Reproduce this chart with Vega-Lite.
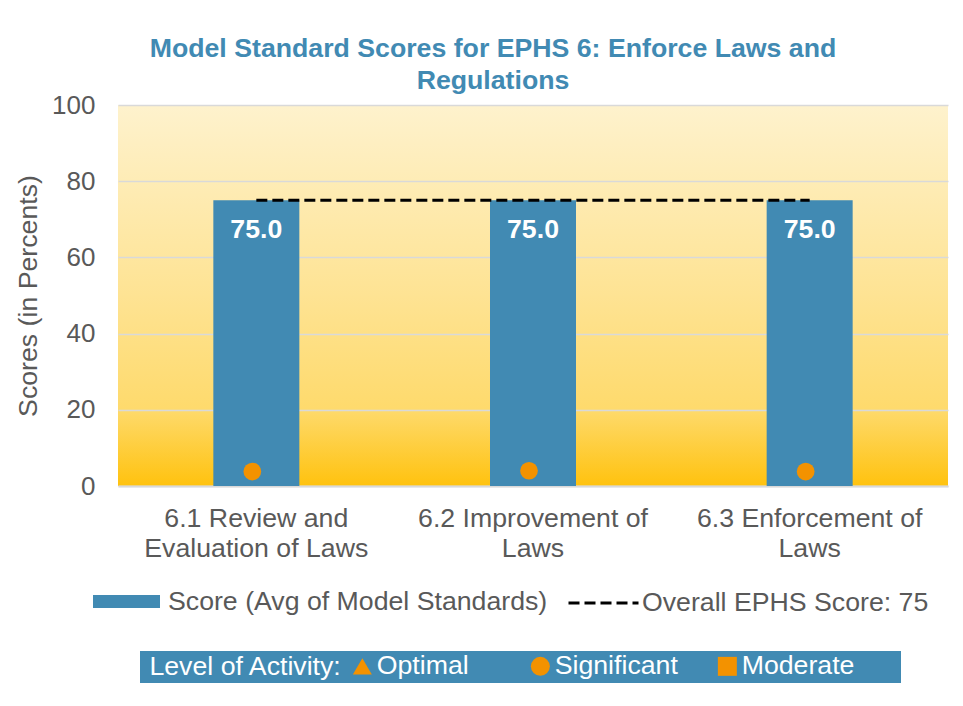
{
  "$schema": "https://vega.github.io/schema/vega-lite/v6.json",
  "width": 830,
  "height": 381,
  "autosize": {"type": "none"},
  "padding": {"left": 118, "top": 105, "right": 15, "bottom": 220},
  "background": "white",
  "title": {
    "text": ["Model Standard Scores for EPHS 6: Enforce Laws and", "Regulations"],
    "fontSize": 26.7,
    "font": "Liberation Sans",
    "fontWeight": "bold",
    "color": "#418AB3",
    "lineHeight": 32,
    "anchor": "middle",
    "dx": -40,
    "offset": -3
  },
  "config": {
    "font": "Liberation Sans",
    "view": {
      "stroke": null,
      "fill": {
        "gradient": "linear",
        "x1": 0, "y1": 0, "x2": 0, "y2": 1,
        "stops": [
          {"offset": 0, "color": "#FEF2CD"},
          {"offset": 0.5, "color": "#FEE393"},
          {"offset": 0.8, "color": "#FEDA6C"},
          {"offset": 1, "color": "#FFC20E"}
        ]
      }
    }
  },
  "data": {
    "values": [
      {"component": "6.1 Review and Evaluation of Laws", "score": 75.0, "overall": 75, "activity": 3.8, "level": "Significant"},
      {"component": "6.2 Improvement of Laws", "score": 75.0, "overall": 75, "activity": 4.0, "level": "Significant"},
      {"component": "6.3 Enforcement of Laws", "score": 75.0, "overall": 75, "activity": 3.8, "level": "Significant"}
    ]
  },
  "encoding": {
    "x": {
      "field": "component",
      "type": "nominal",
      "sort": null,
      "scale": {"paddingInner": 0, "paddingOuter": 0},
      "axis": {
        "title": null,
        "labelAngle": 0,
        "labelFontSize": 26.7,
        "labelColor": "#595959",
        "labelPadding": 19,
        "labelLineHeight": 30,
        "labelLimit": 400,
        "ticks": false,
        "domain": true,
        "domainColor": "#D9D9D9",
        "domainWidth": 2,
        "labelExpr": "datum.label == '6.1 Review and Evaluation of Laws' ? ['6.1 Review and', 'Evaluation of Laws'] : datum.label == '6.2 Improvement of Laws' ? ['6.2 Improvement of', 'Laws'] : ['6.3 Enforcement of', 'Laws']"
      }
    }
  },
  "layer": [
    {
      "mark": {"type": "bar", "width": 86},
      "encoding": {
        "y": {
          "field": "score",
          "type": "quantitative",
          "scale": {"domain": [0, 100], "nice": false},
          "axis": {
            "values": [0, 20, 40, 60, 80, 100],
            "grid": true,
            "gridColor": "#D9D9D9",
            "gridWidth": 1.5,
            "domain": false,
            "ticks": false,
            "labelFontSize": 26,
            "labelColor": "#595959",
            "labelPadding": 23,
            "title": "Scores (in Percents)",
            "titleFontSize": 26.7,
            "titleFontWeight": "normal",
            "titleColor": "#595959",
            "titlePadding": 9
          }
        },
        "fill": {
          "datum": "Score (Avg of Model Standards)",
          "scale": {"range": ["#418AB3"]},
          "legend": {
            "orient": "none",
            "legendX": -25,
            "legendY": 463,
            "title": null,
            "symbolType": "M-1,-0.194H1V0.194H-1Z",
            "symbolSize": 4489,
            "symbolStrokeWidth": 0,
            "labelFontSize": 26.7,
            "labelColor": "#595959",
            "labelLimit": 500,
            "labelOffset": 8
          }
        }
      }
    },
    {
      "mark": {"type": "text", "color": "white", "fontWeight": "bold", "fontSize": 26.7, "baseline": "alphabetic", "dy": 38},
      "encoding": {
        "y": {"field": "score", "type": "quantitative"},
        "text": {"field": "score", "type": "quantitative", "format": ".1f"}
      }
    },
    {
      "mark": {"type": "line", "strokeWidth": 3, "strokeDash": [11, 5]},
      "encoding": {
        "y": {"field": "overall", "type": "quantitative"},
        "stroke": {
          "datum": "Overall EPHS Score: 75",
          "scale": {"range": ["black"]},
          "legend": {
            "orient": "none",
            "legendX": 449,
            "legendY": 461.5,
            "title": null,
            "symbolType": "stroke",
            "symbolSize": 4900,
            "symbolStrokeWidth": 3,
            "symbolDash": [11, 5],
            "labelFontSize": 26.7,
            "labelColor": "#595959",
            "labelLimit": 500,
            "labelOffset": 2
          }
        }
      }
    },
    {
      "mark": {"type": "point", "filled": true, "color": "#F39200", "opacity": 1, "size": 314, "strokeWidth": 0, "xOffset": -4},
      "encoding": {
        "y": {"field": "activity", "type": "quantitative"},
        "shape": {
          "field": "level",
          "type": "nominal",
          "scale": {"domain": ["Optimal", "Significant", "Moderate"], "range": ["triangle-up", "circle", "square"]},
          "legend": {
            "orient": "none",
            "legendX": 22,
            "legendY": 546,
            "direction": "horizontal",
            "title": "\u200b\u00a0Level of Activity:",
            "titleOrient": "left",
            "titleColor": "white",
            "titleFontSize": 26.7,
            "titleFontWeight": "normal",
            "titleLimit": 400,
            "titlePadding": 6,
            "fillColor": "#418AB3",
            "padding": 2,
            "labelColor": "white",
            "labelFontSize": 26.7,
            "labelLimit": 400,
            "labelOffset": 1,
            "symbolSize": 360,
            "symbolFillColor": "#F39200",
            "symbolStrokeColor": "#F39200",
            "symbolStrokeWidth": 0,
            "symbolOpacity": 1,
            "columnPadding": 36,
            "gridAlign": "none",
            "labelExpr": "datum.label == 'Optimal' ? 'Optimal\u00a0\u00a0\u00a0\u200b' : datum.label == 'Moderate' ? 'Moderate\u00a0\u00a0\u00a0\u00a0\u00a0\u00a0\u200b' : datum.label"
          }
        }
      }
    }
  ]
}
